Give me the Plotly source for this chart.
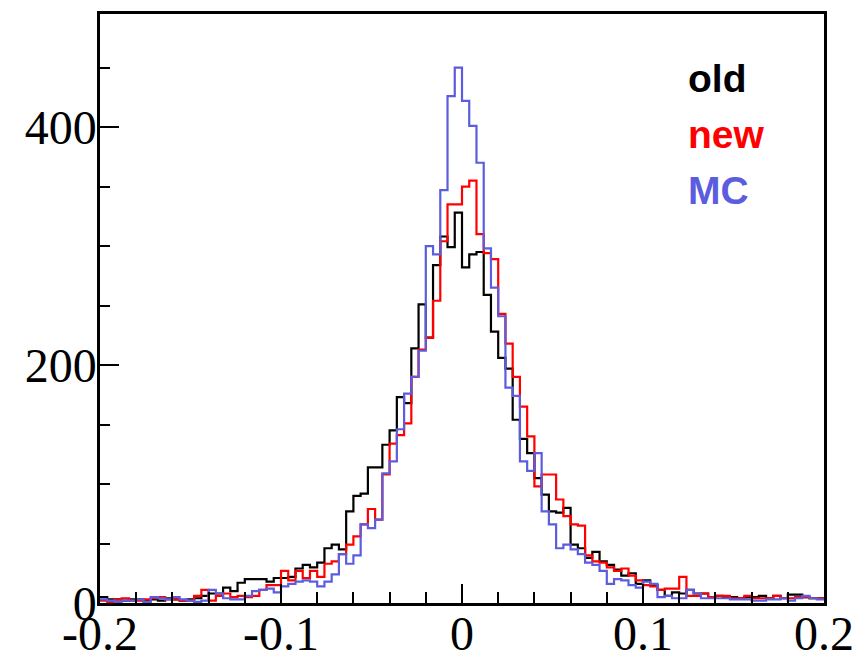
import numpy as np
import plotly.graph_objects as go

# binning of the histograms
x_min, x_max, n_bins = -0.2, 0.2, 100

old_counts = [5, 3, 3, 2, 3, 3, 2, 3, 2, 4, 3, 2, 3, 4, 6, 8, 8, 13, 10, 17,
              20, 20, 20, 18, 21, 21, 22, 29, 32, 30, 34, 46, 49, 45, 77, 90, 92, 114, 114, 133,
              145, 173, 168, 214, 251, 223, 284, 308, 299, 328, 282, 293, 295, 259, 228, 206, 197, 154, 138, 126,
              105, 91, 77, 76, 80, 49, 46, 38, 43, 35, 32, 28, 23, 25, 16, 19, 15, 11, 6, 9,
              8, 11, 8, 8, 5, 6, 5, 5, 4, 5, 5, 6, 4, 6, 4, 7, 7, 5, 4, 4]

new_counts = [2, 1, 3, 4, 2, 2, 3, 4, 5, 3, 3, 2, 2, 6, 11, 2, 6, 8, 5, 6,
              5, 6, 11, 15, 15, 27, 19, 27, 21, 27, 22, 33, 35, 41, 49, 56, 66, 79, 70, 108,
              134, 141, 151, 190, 213, 223, 254, 304, 335, 335, 350, 355, 310, 294, 289, 243, 218, 190, 165, 140,
              98, 108, 108, 87, 73, 66, 65, 40, 35, 34, 30, 27, 29, 23, 19, 15, 14, 11, 12, 12,
              22, 6, 6, 8, 5, 6, 6, 4, 4, 6, 4, 4, 4, 6, 4, 4, 5, 5, 4, 4]

mc_counts = [3, 2, 1, 2, 2, 3, 1, 5, 4, 3, 5, 3, 2, 1, 2, 11, 8, 4, 3, 3,
             6, 10, 11, 12, 9, 14, 16, 18, 19, 18, 14, 18, 24, 41, 33, 40, 66, 63, 70, 109,
             119, 146, 176, 190, 212, 300, 293, 347, 426, 450, 422, 401, 370, 298, 265, 241, 181, 174, 119, 111,
             126, 77, 66, 46, 49, 45, 41, 34, 32, 27, 16, 20, 19, 15, 13, 18, 16, 5, 6, 4,
             4, 11, 8, 4, 4, 4, 4, 3, 3, 3, 2, 2, 3, 3, 4, 2, 4, 6, 4, 3]

series_names = ["old", "new", "MC"]
series_colors = ["#000000", "#ff0000", "#5c5cde"]

x_tick_vals = [-0.2, -0.1, 0, 0.1, 0.2]
x_tick_text = ["-0.2", "-0.1", "0", "0.1", "0.2"]
y_tick_vals = [0, 200, 400]
y_tick_text = ["0", "200", "400"]

edges = np.linspace(x_min, x_max, n_bins + 1)

fig = go.Figure()
for counts, color in zip([old_counts, new_counts, mc_counts], series_colors):
    y = list(counts) + [counts[-1]]
    fig.add_trace(go.Scatter(x=edges, y=y, mode="lines",
                             line=dict(color=color, width=2.2, shape="hv"),
                             showlegend=False, hoverinfo="skip"))

legend_y = [0.89, 0.795, 0.70]
for name, color, yy in zip(series_names, series_colors, legend_y):
    fig.add_annotation(text="<b>%s</b>" % name, xref="paper", yref="paper",
                       x=0.81, y=yy, xanchor="left", yanchor="middle",
                       showarrow=False,
                       font=dict(family="Liberation Sans, Arial, sans-serif", size=39, color=color))

axis_font = dict(family="Liberation Serif, Times New Roman, serif", size=48, color="black")

fig.update_xaxes(range=[x_min, x_max], showgrid=False, zeroline=False, automargin=False,
                 showline=True, linecolor="black", linewidth=2.5, mirror=True,
                 ticks="inside", ticklen=19, tickwidth=2, tickcolor="black",
                 tickvals=x_tick_vals, ticktext=x_tick_text, tickfont=axis_font,
                 ticklabelstandoff=-13,
                 minor=dict(ticks="inside", ticklen=11, tickwidth=2, tickcolor="black", dtick=0.02))
fig.update_yaxes(range=[0, 495], showgrid=False, zeroline=False, automargin=False,
                 showline=True, linecolor="black", linewidth=2.5, mirror=True,
                 ticks="inside", ticklen=19, tickwidth=2, tickcolor="black",
                 tickvals=y_tick_vals, ticktext=y_tick_text, tickfont=axis_font,
                 ticklabelstandoff=-9,
                 minor=dict(ticks="inside", ticklen=10, tickwidth=2, tickcolor="black", dtick=50))

# the page body adds an 8 px offset, so the figure is 8 px smaller than the window
fig.update_layout(width=855, height=643, margin=dict(l=92, r=39, t=6, b=48),
                  paper_bgcolor="white", plot_bgcolor="white")

fig.write_html("out.html")
